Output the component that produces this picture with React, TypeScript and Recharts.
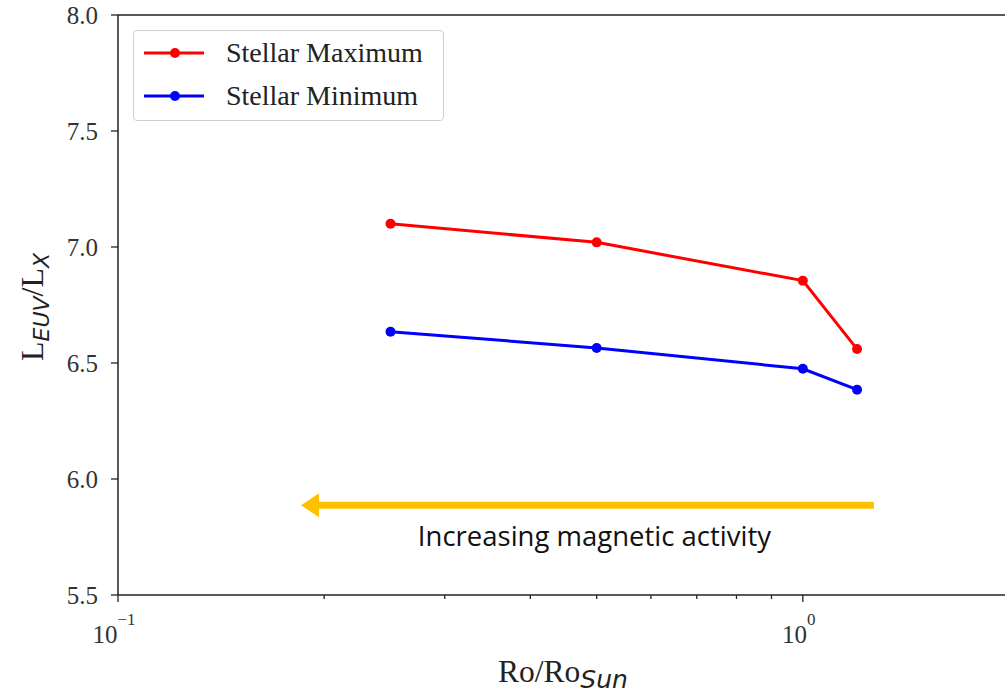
import { LineChart, Line, XAxis, YAxis, ReferenceLine, Legend, Label } from "recharts"

// Rossby number relative to the Sun
const roValues = [0.25, 0.5, 1.0, 1.2]
// log EUV/X-ray luminosity ratio
const stellarMax = [7.1, 7.02, 6.855, 6.56]
const stellarMin = [6.635, 6.565, 6.475, 6.385]

const yTicks = [5.5, 6.0, 6.5, 7.0, 7.5, 8.0]
const xTicks = [0.1, 0.2, 0.3, 0.4, 0.5, 0.6, 0.7, 0.8, 0.9, 1, 2]
const majorTicks = [0.1, 1]
const majorTickLabels = ["\u22121", "0"]

// annotation arrow (points toward lower Ro)
const arrowStart = 1.27
const arrowEnd = 0.185
const arrowLevel = 5.887
const arrowText = "Increasing magnetic activity"

const legendItems = [
  { name: "Stellar Maximum", color: "#ff0000" },
  { name: "Stellar Minimum", color: "#0000ff" },
]

const data = roValues.map((ro, i) => ({ ro, max: stellarMax[i], min: stellarMin[i] }))

const SERIF = "'Liberation Serif', 'Times New Roman', serif"
const SANS = "'DejaVu Sans', sans-serif"
const AXIS = "#222"

const XTick = (props: any) => {
  const { x, y, payload } = props
  const idx = majorTicks.indexOf(payload.value)
  const major = idx >= 0
  return (
    <g>
      <line x1={x} x2={x} y1={y} y2={y + (major ? 7 : 4)} stroke={AXIS} strokeWidth={1.3} />
      {major && (
        <text x={x - 4} y={y + 48} textAnchor="middle" style={{ fontFamily: SERIF, fontSize: 25 }} fill="#333">
          10
          <tspan style={{ fontSize: 17 }} dy={-18}>{majorTickLabels[idx]}</tspan>
        </text>
      )}
    </g>
  )
}

const YTick = (props: any) => {
  const { x, y, payload } = props
  return (
    <g>
      <line x1={x - 7} x2={x} y1={y} y2={y} stroke={AXIS} strokeWidth={1.3} />
      <text x={x - 20} y={y + 9} textAnchor="end" style={{ fontFamily: SERIF, fontSize: 25 }} fill="#333">
        {payload.value.toFixed(1)}
      </text>
    </g>
  )
}

const ArrowShape = (props: any) => {
  const { x1, y1, x2 } = props
  const head = 18
  return (
    <g>
      <line x1={x1} y1={y1} x2={x2 + head - 2} y2={y1} stroke="#ffc000" strokeWidth={7} />
      <polygon points={`${x2},${y1} ${x2 + head},${y1 - 12} ${x2 + head},${y1 + 12}`} fill="#ffc000" />
      <text
        x={(x1 + x2) / 2 + 7}
        y={y1 + 41}
        textAnchor="middle"
        style={{ fontFamily: "'Open Sans', sans-serif", fontSize: 27.5 }}
        fill="#111"
      >
        {arrowText}
      </text>
    </g>
  )
}

const LegendBox = () => (
  <div
    style={{
      width: 309,
      height: 89,
      border: "1px solid #d0d0d0",
      borderRadius: 4,
      background: "rgba(255,255,255,0.8)",
      position: "relative",
    }}
  >
    {legendItems.map((item, i) => (
      <div key={item.name} style={{ position: "absolute", left: 0, top: 22 + i * 43 - 20, height: 40, display: "flex", alignItems: "center" }}>
        <svg width={90} height={40}>
          <line x1={10} x2={70} y1={20} y2={20} stroke={item.color} strokeWidth={3} />
          <circle cx={41} cy={20} r={5} fill={item.color} />
        </svg>
        <span style={{ fontFamily: SERIF, fontSize: 28, color: "#222", marginLeft: 2 }}>{item.name}</span>
      </div>
    ))}
  </div>
)

const YLabel = () => (
  <text transform="translate(43, 307) rotate(-90)" textAnchor="middle" style={{ fontFamily: SERIF, fontSize: 32 }} fill="#222">
    L<tspan style={{ fontFamily: SANS, fontStyle: "italic", fontSize: 22 }} dy={6}>EUV</tspan>
    <tspan dy={-6}>/L</tspan>
    <tspan style={{ fontFamily: SANS, fontStyle: "italic", fontSize: 22 }} dy={6}>X</tspan>
  </text>
)

const XLabel = () => (
  <text x={563} y={682} textAnchor="middle" style={{ fontFamily: SERIF, fontSize: 31.5 }} fill="#222">
    Ro/Ro<tspan style={{ fontFamily: SANS, fontStyle: "italic", fontSize: 25 }} dy={6}>Sun</tspan>
  </text>
)

export default function App() {
  return (
    <div style={{ position: "fixed", left: 0, top: 0, width: 1005, height: 696, overflow: "hidden", background: "#fff" }}>
      <LineChart width={1030} height={696} data={data} margin={{ top: 15, right: 21, bottom: 0, left: 0 }}>
        <XAxis
          dataKey="ro"
          type="number"
          scale="log"
          domain={[0.1, 2]}
          allowDataOverflow
          ticks={xTicks}
          interval={0}
          tick={<XTick />}
          tickLine={false}
          tickSize={0}
          tickMargin={0}
          height={101}
          stroke={AXIS}
          strokeWidth={1.5}
        >
          <Label content={<XLabel />} />
        </XAxis>
        <YAxis
          type="number"
          domain={[5.5, 8]}
          ticks={yTicks}
          interval={0}
          tick={<YTick />}
          tickLine={false}
          tickSize={0}
          tickMargin={0}
          width={118}
          stroke={AXIS}
          strokeWidth={1.5}
        >
          <Label content={<YLabel />} />
        </YAxis>
        <ReferenceLine y={8} stroke={AXIS} strokeWidth={1.5} />
        <ReferenceLine
          segment={[
            { x: arrowStart, y: arrowLevel },
            { x: arrowEnd, y: arrowLevel },
          ]}
          shape={<ArrowShape />}
        />
        <Legend
          layout="horizontal"
          verticalAlign="middle"
          align="center"
          content={<LegendBox />}
          wrapperStyle={{ left: 133, top: 30, width: 311, height: 91 }}
        />
        <Line
          dataKey="max"
          name="Stellar Maximum"
          stroke="#ff0000"
          strokeWidth={3}
          dot={{ r: 5, fill: "#ff0000", stroke: "#ff0000", strokeWidth: 0 }}
          isAnimationActive={false}
        />
        <Line
          dataKey="min"
          name="Stellar Minimum"
          stroke="#0000ff"
          strokeWidth={3}
          dot={{ r: 5, fill: "#0000ff", stroke: "#0000ff", strokeWidth: 0 }}
          isAnimationActive={false}
        />
      </LineChart>
    </div>
  )
}
